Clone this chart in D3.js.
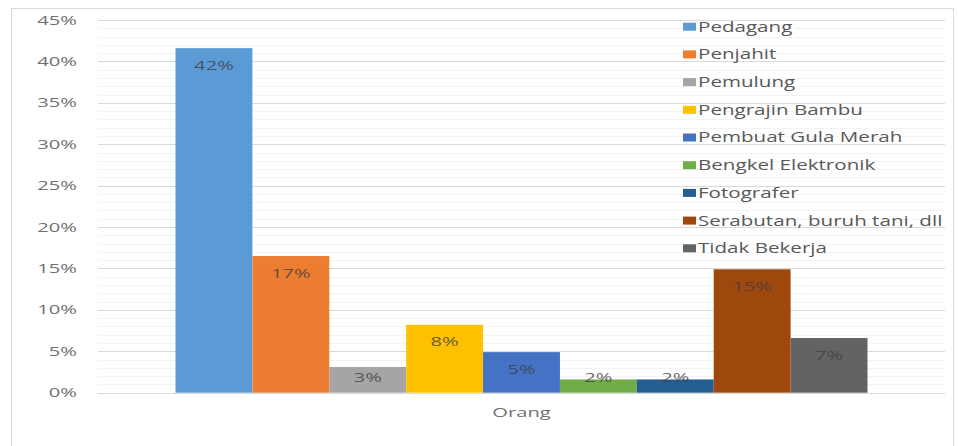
<!DOCTYPE html>
<html>
<head>
<meta charset="utf-8">
<script src="https://cdn.jsdelivr.net/npm/d3@7"></script>
<style>
  body { margin: 0; background: #fff; }
  svg { display: block; font-family: "Open Sans", sans-serif; }
</style>
</head>
<body>
<div id="chart"></div>
<script>
// data
const group = ['Orang']
const series = ['Pedagang', 'Penjahit', 'Pemulung', 'Pengrajin Bambu', 'Pembuat Gula Merah',
  'Bengkel Elektronik', 'Fotografer', 'Serabutan, buruh tani, dll', 'Tidak Bekerja']
const values = [41.6, 16.5, 3.1, 8.2, 4.9, 1.6, 1.6, 14.9, 6.6]
const valueLabels = ['42%', '17%', '3%', '8%', '5%', '2%', '2%', '15%', '7%']
const colors = ['#5b9bd5', '#ed7d31', '#a5a5a5', '#ffc000', '#4472c4',
  '#70ad47', '#255e91', '#9e480e', '#636363']
const yTicks = [0, 5, 10, 15, 20, 25, 30, 35, 40, 45]
const yTickLabels = ['0%', '5%', '10%', '15%', '20%', '25%', '30%', '35%', '40%', '45%']

const width = 958
const height = 446
// the source picture is stretched sideways, so text is too
const sx = 1.55
const sxLegend = 1.47

const svg = d3.select('#chart').append('svg')
  .attr('width', width)
  .attr('height', height)

// outer chart frame
svg.append('rect')
  .attr('x', 11.5).attr('y', 8.5)
  .attr('width', 942).attr('height', 460)
  .attr('fill', '#fff')
  .attr('stroke', '#d9d9d9')

const y = d3.scaleLinear().domain([0, 45]).range([392.7, 20])
const x0 = d3.scaleBand().domain(group).range([98, 945]).paddingOuter(0.112)
const x1 = d3.scaleBand().domain(series).range([0, x0.bandwidth()])

// minor gridlines
svg.append('g')
  .selectAll('line')
  .data(d3.range(1, 45).filter(v => v % 5 !== 0))
  .join('line')
  .attr('x1', 98).attr('x2', 945)
  .attr('y1', d => Math.round(y(d)) + 0.5)
  .attr('y2', d => Math.round(y(d)) + 0.5)
  .attr('stroke', '#f3f3f3')

// major gridlines
svg.append('g')
  .selectAll('line')
  .data(yTicks)
  .join('line')
  .attr('x1', 98).attr('x2', 945)
  .attr('y1', d => Math.round(y(d)) + 0.5)
  .attr('y2', d => Math.round(y(d)) + 0.5)
  .attr('stroke', '#d9d9d9')

// y tick labels
svg.append('g')
  .selectAll('text')
  .data(yTicks)
  .join('text')
  .attr('transform', d => `translate(77,${y(d)}) scale(${sx},1)`)
  .attr('text-anchor', 'end')
  .attr('dy', '0.35em')
  .attr('font-size', 13)
  .attr('fill', '#707070')
  .text((d, i) => yTickLabels[i])

// bars
const g = svg.append('g').attr('transform', `translate(${x0('Orang')},0)`)

g.selectAll('rect')
  .data(series)
  .join('rect')
  .attr('x', d => x1(d))
  .attr('width', x1.bandwidth())
  .attr('y', (d, i) => y(values[i]))
  .attr('height', (d, i) => y(0) - y(values[i]))
  .attr('fill', (d, i) => colors[i])

// data labels, inside end
g.selectAll('text')
  .data(series)
  .join('text')
  .attr('transform', (d, i) => {
    let cy = Math.min(y(values[i]) + 17, y(0) - 15)
    return `translate(${x1(d) + x1.bandwidth() / 2},${cy}) scale(${sx},1)`
  })
  .attr('text-anchor', 'middle')
  .attr('dy', '0.35em')
  .attr('font-size', 13)
  .attr('fill', '#404040')
  .attr('fill-opacity', 0.8)
  .text((d, i) => valueLabels[i])

// category label
svg.append('text')
  .attr('transform', `translate(${x0('Orang') + x0.bandwidth() / 2},412) scale(${sx},1)`)
  .attr('text-anchor', 'middle')
  .attr('dy', '0.35em')
  .attr('font-size', 13)
  .attr('fill', '#707070')
  .text('Orang')

// legend
const ly = d3.scalePoint().domain(series).range([26.7, 248.3])
const legend = svg.append('g')
  .selectAll('g')
  .data(series)
  .join('g')
  .attr('transform', d => `translate(683,${ly(d)})`)

legend.append('rect')
  .attr('x', 0).attr('y', -4)
  .attr('width', 13).attr('height', 8)
  .attr('fill', (d, i) => colors[i])

legend.append('text')
  .attr('transform', `translate(15,0) scale(${sxLegend},1)`)
  .attr('dy', '0.35em')
  .attr('font-size', 14)
  .attr('fill', '#595959')
  .text(d => d)
</script>
</body>
</html>
